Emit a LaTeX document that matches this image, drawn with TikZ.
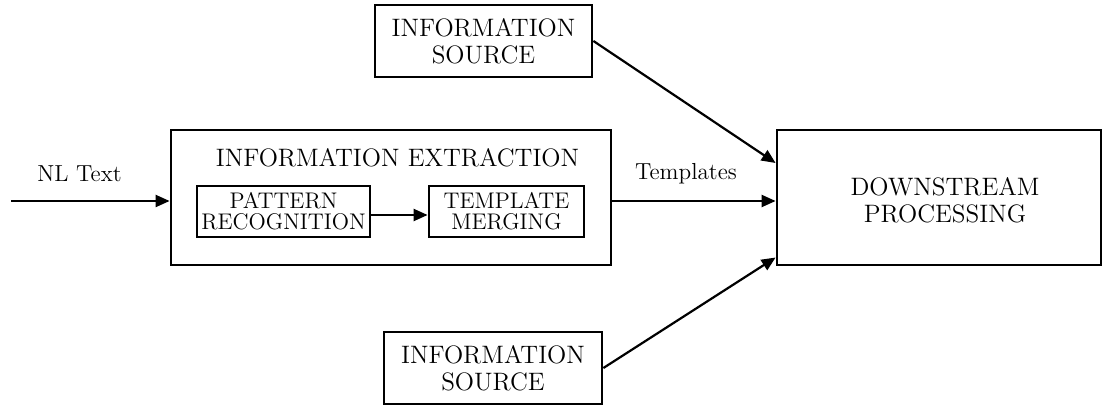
\documentclass[tikz,border=0pt]{standalone}
\usetikzlibrary{arrows.meta}
\begin{document}
\begin{tikzpicture}[x=0.5pt,y=-0.5pt,
  box/.style={draw,line width=1.4pt,inner sep=0pt,align=center},
  bigtxt/.style={font=\fontsize{12.6}{13.3}\selectfont},
  smalltxt/.style={font=\fontsize{11.3}{10.6}\selectfont},
  lbl/.style={font=\fontsize{11.6}{13}\selectfont,inner sep=0pt},
  conn/.style={line width=1.1pt,-{Triangle[length=7pt,width=6pt]}}]
\useasboundingbox (0,0) rectangle (1103,406);
\node[box,bigtxt,minimum width=108.5pt,minimum height=36pt] (top) at (483.5,41) {INFORMATION\\SOURCE};
\node[box,bigtxt,minimum width=109pt,minimum height=36pt] (bot) at (493,368) {INFORMATION\\SOURCE};
\node[box,minimum width=220pt,minimum height=67.5pt] (ie) at (391,197.5) {};
\node[bigtxt,inner sep=0pt] (ietitle) at (397.5,158) {INFORMATION EXTRACTION};
\node[box,smalltxt,minimum width=86.5pt,minimum height=25.5pt] (pr) at (283.5,211.5) {PATTERN\\RECOGNITION};
\node[box,smalltxt,minimum width=77.5pt,minimum height=25.5pt] (tm) at (506.5,211.5) {TEMPLATE\\MERGING};
\node[box,minimum width=162pt,minimum height=67.5pt] (ds) at (939,197.5) {};
\node[bigtxt,inner sep=0pt,align=center] (dstxt) at (945,200.5) {DOWNSTREAM\\PROCESSING};
\coordinate (nlstart) at (11,201);
\node[lbl] (nl) at (79.5,174) {NL Text};
\node[lbl] (tpl) at (686,174) {Templates};
\draw[conn] (nlstart) -- (ie.west |- nlstart);
\draw[conn] ([yshift=-1.75pt]pr.east) -- ([yshift=-1.75pt]tm.west);
\draw[conn] ([yshift=-1.75pt]ie.east) -- ([yshift=-1.75pt]ds.west);
\draw[conn] (top.east) -- ([yshift=17.25pt]ds.west);
\draw[conn] (bot.east) -- ([yshift=-30pt]ds.west);
\end{tikzpicture}
\end{document}
